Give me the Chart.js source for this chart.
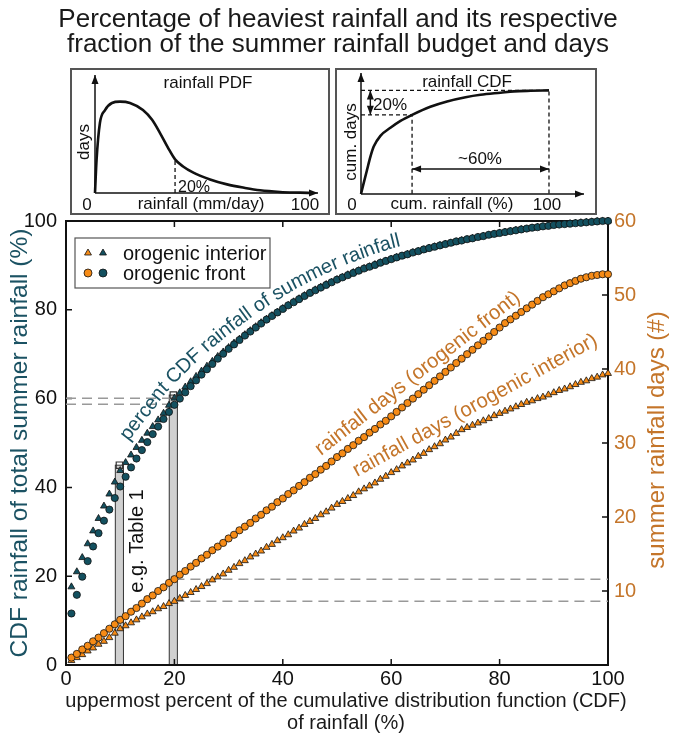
<!DOCTYPE html>
<html>
<head>
<meta charset="utf-8">
<script src="https://cdn.jsdelivr.net/npm/chart.js@4.4.0/dist/chart.umd.min.js"></script>
<style>
body { margin: 0; background: #fff; }
#wrap { position: relative; width: 673px; height: 737px; }
canvas { position: absolute; }
</style>
</head>
<body>
<div id="wrap">
  <canvas id="main" width="673" height="737" style="left:0;top:0"></canvas>
  <canvas id="pdf" width="260" height="147" style="left:70px;top:68px"></canvas>
  <canvas id="cdf" width="262" height="147" style="left:335px;top:68px"></canvas>
</div>
<script>
// uppermost percent of the rainfall CDF (x axis), 1..100
var pct = [];
for (var i = 1; i <= 100; i++) pct.push(i);

// percent CDF rainfall of summer rainfall (left axis)
var cdfFront = [11.6,15.8,19.9,23.4,26.7,29.7,32.5,35.0,37.6,40.2,
  42.4,44.5,46.5,48.4,50.2,52.0,53.7,55.4,57.0,58.6,
  60.0,61.4,62.8,64.1,65.4,66.6,67.8,69.0,70.1,71.2,
  72.2,73.2,74.2,75.1,76.0,76.9,77.8,78.6,79.4,80.2,
  81.0,81.7,82.4,83.1,83.8,84.4,85.0,85.6,86.2,86.8,
  87.3,87.8,88.3,88.8,89.3,89.7,90.1,90.6,91.0,91.4,
  91.8,92.2,92.5,92.9,93.2,93.6,93.9,94.2,94.5,94.8,
  95.1,95.4,95.6,95.9,96.1,96.4,96.6,96.9,97.1,97.3,
  97.5,97.7,97.9,98.1,98.3,98.5,98.6,98.8,98.9,99.1,
  99.2,99.3,99.4,99.5,99.6,99.7,99.8,99.9,100.0,100.0];
var cdfInterior = [17.6,21.0,24.2,27.3,30.2,33.0,35.8,38.5,41.2,43.8,
  45.6,47.3,49.0,50.6,52.2,53.7,55.2,56.7,58.5,60.1,
  61.3,62.6,63.8,65.0,66.2,67.3,68.4,69.5,70.5,71.5,
  72.5,73.4,74.4,75.3,76.2,77.1,77.9,78.7,79.5,80.3,
  81.0,81.8,82.5,83.2,83.8,84.5,85.1,85.7,86.2,86.8,
  87.3,87.9,88.4,88.8,89.3,89.7,90.2,90.6,91.0,91.4,
  91.8,92.1,92.5,92.9,93.2,93.5,93.9,94.2,94.5,94.8,
  95.0,95.3,95.6,95.8,96.1,96.3,96.6,96.8,97.0,97.3,
  97.5,97.7,97.9,98.1,98.2,98.4,98.6,98.7,98.9,99.0,
  99.2,99.3,99.4,99.5,99.6,99.7,99.8,99.9,99.9,100.0];

// summer rainfall days (right axis)
var daysFront = [1.0,1.5,2.1,2.6,3.2,3.7,4.3,4.9,5.5,6.1,
  6.6,7.2,7.7,8.3,8.9,9.4,10.0,10.5,11.1,11.6,
  12.2,12.7,13.3,13.8,14.4,14.9,15.5,16.0,16.5,17.1,
  17.6,18.2,18.7,19.2,19.8,20.3,20.9,21.4,22.0,22.5,
  23.1,23.6,24.2,24.7,25.3,25.8,26.4,26.9,27.5,28.1,
  28.6,29.2,29.7,30.3,30.8,31.4,31.9,32.5,33.0,33.6,
  34.2,34.8,35.4,36.0,36.6,37.2,37.8,38.4,39.0,39.6,
  40.2,40.8,41.4,42.0,42.6,43.2,43.8,44.4,45.0,45.6,
  46.2,46.7,47.2,47.7,48.2,48.7,49.2,49.7,50.1,50.5,
  50.9,51.3,51.6,51.9,52.2,52.4,52.6,52.7,52.8,52.8];
var daysInterior = [0.6,1.0,1.4,1.9,2.3,2.8,3.2,3.7,4.3,4.9,
  5.3,5.7,6.1,6.5,6.9,7.2,7.6,7.9,8.3,8.6,
  9.0,9.4,9.8,10.2,10.6,11.0,11.5,11.9,12.3,12.8,
  13.2,13.7,14.1,14.6,15.0,15.4,15.9,16.3,16.8,17.2,
  17.6,18.1,18.5,19.0,19.4,19.8,20.3,20.7,21.2,21.7,
  22.1,22.5,22.9,23.4,23.8,24.2,24.6,25.1,25.5,26.0,
  26.4,26.9,27.3,27.7,28.2,28.6,29.1,29.5,29.9,30.4,
  30.8,31.3,31.8,32.1,32.4,32.7,33.0,33.3,33.7,34.0,
  34.3,34.6,34.9,35.2,35.5,35.7,36.0,36.2,36.5,36.8,
  37.1,37.3,37.6,37.9,38.2,38.4,38.7,38.9,39.2,39.4];

// "e.g. Table 1" bars (10 % and 20 %) and guide levels
var tablePct = [9.85, 19.8];
var tableCdf = [45.0, 60.8];
var guideCdf = [60.1, 58.7];   // rainfall fraction at 20 %
var guideDays = [11.6, 8.6];   // rainfall days at 20 %

// inset sketches (arbitrary units 0-100)
var pdfRain = [0,0.7,2.2,4.5,7.6,11.2,15.7,21.5,25.6,29.1,32.7,35.9,39.5,43.9,51.6,59.2,67.3,74,83,91.9,97.3];
var pdfDays = [0,28,59.3,70.3,76.3,77.4,76.3,70.3,62.0,51.0,38.5,28.5,22.5,17.5,11.5,7.3,4.3,2.3,0.9,0.3,0];
var pdfCut = 35.9, pdfCutDays = 28.5;
var cdfRain = [0,1,2.7,4.2,5.7,8.7,13.2,17.7,22.9,31.1,38.6,46.9,53.6,62.6,68.6,76.1,84.3];
var cdfDays = [0,7.5,19.9,30.7,39.2,48.1,54.7,60.4,65.4,72.1,76.5,80,82,83.7,84.8,85.3,85.6];

var TEAL = '#13505f', TEAL_TXT = '#1b5263', ORANGE = '#f68b16', ORANGE_TXT = '#c4752a';
var FONT = '"Liberation Sans", Arial, Helvetica, sans-serif';

function xy(xs, ys) { return xs.map(function(x, i) { return {x: x, y: ys[i]}; }); }

function drawCurveText(ctx, pts, text, startIdx, offset) {
  // offset polyline to the upper left of the curve
  var off = [];
  for (var i = 0; i < pts.length; i++) {
    var a = pts[Math.max(i - 2, 0)], b = pts[Math.min(i + 2, pts.length - 1)];
    var tx = b.x - a.x, ty = b.y - a.y, l = Math.hypot(tx, ty) || 1;
    tx /= l; ty /= l;
    off.push({x: pts[i].x + ty * offset, y: pts[i].y - tx * offset});
  }
  var cum = [0];
  for (var j = 1; j < off.length; j++) cum.push(cum[j - 1] + Math.hypot(off[j].x - off[j - 1].x, off[j].y - off[j - 1].y));
  function at(s) {
    var k = 0;
    while (k < cum.length - 2 && cum[k + 1] < s) k++;
    var t = (s - cum[k]) / ((cum[k + 1] - cum[k]) || 1);
    var p = off[k], q = off[k + 1];
    return {x: p.x + (q.x - p.x) * t, y: p.y + (q.y - p.y) * t, a: Math.atan2(q.y - p.y, q.x - p.x)};
  }
  var s = cum[startIdx];
  for (var c = 0; c < text.length; c++) {
    var ch = text[c], w = ctx.measureText(ch).width;
    var p = at(s + w / 2);
    ctx.save();
    ctx.translate(p.x, p.y);
    ctx.rotate(p.a);
    ctx.fillText(ch, -w / 2, 0);
    ctx.restore();
    s += w;
  }
}

function rotText(ctx, text, x, y, deg, align) {
  ctx.save();
  ctx.translate(x, y);
  ctx.rotate(deg * Math.PI / 180);
  ctx.textAlign = align || 'center';
  ctx.fillText(text, 0, 0);
  ctx.restore();
}

var mainDecor = {
  id: 'mainDecor',
  beforeDatasetsDraw: function(chart) {
    var ctx = chart.ctx, a = chart.chartArea, sx = chart.scales.x, sy = chart.scales.y, sy2 = chart.scales.y2;
    ctx.save();
    // table bars
    ctx.fillStyle = '#d0d0d0';
    ctx.strokeStyle = '#333';
    ctx.lineWidth = 1;
    for (var i = 0; i < tablePct.length; i++) {
      var x0 = sx.getPixelForValue(tablePct[i] - 0.75), x1 = sx.getPixelForValue(tablePct[i] + 0.75);
      var yt = sy.getPixelForValue(tableCdf[i]), yb = sy.getPixelForValue(0);
      ctx.fillRect(x0, yt, x1 - x0, yb - yt);
      ctx.strokeRect(x0, yt, x1 - x0, yb - yt);
    }
    // frame and inward ticks
    ctx.strokeStyle = '#111';
    ctx.lineWidth = 2;
    ctx.strokeRect(a.left, a.top, a.right - a.left, a.bottom - a.top);
    ctx.lineWidth = 1.5;
    ctx.beginPath();
    [20, 40, 60, 80].forEach(function(v) {
      var px = sx.getPixelForValue(v), py = sy.getPixelForValue(v);
      ctx.moveTo(px, a.bottom); ctx.lineTo(px, a.bottom - 6);
      ctx.moveTo(px, a.top); ctx.lineTo(px, a.top + 6);
      ctx.moveTo(a.left, py); ctx.lineTo(a.left + 6, py);
    });
    [10, 20, 30, 40, 50].forEach(function(v) {
      var py = sy2.getPixelForValue(v);
      ctx.moveTo(a.right, py); ctx.lineTo(a.right - 6, py);
    });
    ctx.stroke();
    ctx.restore();
  },
  afterDraw: function(chart) {
    var ctx = chart.ctx;
    ctx.save();
    ctx.textBaseline = 'alphabetic';
    // title
    ctx.fillStyle = '#1a1a1a';
    ctx.font = '26px ' + FONT;
    ctx.textAlign = 'center';
    ctx.fillText('Percentage of heaviest rainfall and its respective', 338, 27);
    ctx.fillText('fraction of the summer rainfall budget and days', 338, 52);
    // axis titles
    ctx.font = '20px ' + FONT;
    ctx.fillText('uppermost percent of the cumulative distribution function (CDF)', 346, 707);
    ctx.fillText('of rainfall (%)', 346, 729);
    ctx.font = '24.5px ' + FONT;
    ctx.fillStyle = TEAL_TXT;
    rotText(ctx, 'CDF rainfall of total summer rainfall (%)', 27, 443, -90);
    ctx.font = '24px ' + FONT;
    ctx.fillStyle = ORANGE_TXT;
    rotText(ctx, 'summer rainfall days (#)', 664, 440, -90);

    // curve labels
    ctx.font = '20px ' + FONT;
    ctx.fillStyle = TEAL_TXT;
    ctx.textAlign = 'left';
    var pts = chart.getDatasetMeta(1).data.map(function(e) { return {x: e.x, y: e.y}; });
    drawCurveText(ctx, pts, 'percent CDF rainfall of summer rainfall', 12, 10);
    ctx.font = '20.5px ' + FONT;
    ctx.fillStyle = ORANGE_TXT;
    rotText(ctx, 'rainfall days (orogenic front)', 321, 456, -37.9, 'left');
    rotText(ctx, 'rainfall days (orogenic interior)', 357, 477, -28.8, 'left');
    ctx.fillStyle = '#111';
    ctx.font = '20px ' + FONT;
    rotText(ctx, 'e.g. Table 1', 143, 541, -90);

    // legend
    ctx.fillStyle = '#fff';
    ctx.fillRect(75, 238, 195, 50);
    ctx.strokeStyle = '#555';
    ctx.lineWidth = 1.2;
    ctx.strokeRect(75, 238, 195, 50);
    var rows = [['triangle', 'orogenic interior', 253], ['circle', 'orogenic front', 273]];
    rows.forEach(function(r) {
      [[ORANGE, 88], [TEAL, 103]].forEach(function(m) {
        ctx.fillStyle = m[0];
        ctx.strokeStyle = '#111';
        ctx.lineWidth = 0.8;
        Chart.helpers.drawPoint(ctx, {pointStyle: r[0], radius: 4, borderWidth: 0.8, rotation: 0}, m[1], r[2]);
      });
      ctx.fillStyle = '#111';
      ctx.font = '20px ' + FONT;
      ctx.textAlign = 'left';
      ctx.fillText(r[1], 123, r[2] + 7);
    });
    ctx.restore();
  }
};

var markerBase = {borderColor: '#111', borderWidth: 0.8, clip: false, showLine: false};

new Chart(document.getElementById('main'), {
  type: 'scatter',
  data: {
    datasets: [
      Object.assign({data: xy(pct, cdfFront), yAxisID: 'y', pointStyle: 'circle', pointRadius: 3.6, backgroundColor: TEAL, order: 3}, markerBase),
      Object.assign({data: xy(pct, cdfInterior), yAxisID: 'y', pointStyle: 'triangle', pointRadius: 4, backgroundColor: TEAL, order: 4}, markerBase),
      Object.assign({data: xy(pct, daysFront), yAxisID: 'y2', pointStyle: 'circle', pointRadius: 3.6, backgroundColor: ORANGE, order: 5}, markerBase),
      Object.assign({data: xy(pct, daysInterior), yAxisID: 'y2', pointStyle: 'triangle', pointRadius: 4, backgroundColor: ORANGE, order: 6}, markerBase),
      {type: 'scatter', data: xy(tablePct, tableCdf), yAxisID: 'y', pointStyle: 'rect', pointRadius: 4.5, backgroundColor: 'rgba(0,0,0,0)', borderColor: '#333', borderWidth: 1.2, order: 1},
      {type: 'line', data: [{x: 0, y: guideCdf[0]}, {x: 20, y: guideCdf[0]}], yAxisID: 'y', borderColor: '#999', borderWidth: 1.5, borderDash: [10, 6], pointRadius: 0, order: 9},
      {type: 'line', data: [{x: 0, y: guideCdf[1]}, {x: 20, y: guideCdf[1]}], yAxisID: 'y', borderColor: '#999', borderWidth: 1.5, borderDash: [10, 6], pointRadius: 0, order: 9},
      {type: 'line', data: [{x: 20, y: guideDays[0]}, {x: 100, y: guideDays[0]}], yAxisID: 'y2', borderColor: '#999', borderWidth: 1.5, borderDash: [10, 6], pointRadius: 0, order: 9},
      {type: 'line', data: [{x: 20, y: guideDays[1]}, {x: 100, y: guideDays[1]}], yAxisID: 'y2', borderColor: '#999', borderWidth: 1.5, borderDash: [10, 6], pointRadius: 0, order: 9}
    ]
  },
  options: {
    responsive: false,
    animation: false,
    devicePixelRatio: 1,
    layout: {padding: {top: 221, left: 0, right: 0, bottom: 0}},
    plugins: {legend: {display: false}, tooltip: {enabled: false}},
    scales: {
      x: {type: 'linear', min: 0, max: 100,
        ticks: {stepSize: 20, color: '#111', font: {size: 20, family: FONT}, padding: 2, maxRotation: 0},
        grid: {display: false, drawTicks: false}, border: {display: false},
        afterFit: function(s) { s.height = 72; }},
      y: {position: 'left', min: 0, max: 100,
        ticks: {stepSize: 20, color: '#111', font: {size: 20, family: FONT}, padding: 9},
        grid: {display: false, drawTicks: false}, border: {display: false},
        afterFit: function(s) { s.width = 66; }},
      y2: {position: 'right', min: 0, max: 60,
        ticks: {stepSize: 10, color: ORANGE_TXT, font: {size: 20, family: FONT}, padding: 6,
          callback: function(v) { return v === 0 ? '' : v; }},
        grid: {display: false, drawTicks: false}, border: {display: false},
        afterFit: function(s) { s.width = 65; }}
    }
  },
  plugins: [mainDecor]
});

// ---- insets ----
function arrowHead(ctx, x, y, ang) {
  ctx.save();
  ctx.translate(x, y);
  ctx.rotate(ang);
  ctx.beginPath();
  ctx.moveTo(0, 0);
  ctx.lineTo(-9, -3.5);
  ctx.lineTo(-9, 3.5);
  ctx.closePath();
  ctx.fill();
  ctx.restore();
}
function arrow(ctx, x1, y1, x2, y2, both) {
  ctx.beginPath();
  ctx.moveTo(x1, y1);
  ctx.lineTo(x2, y2);
  ctx.stroke();
  var ang = Math.atan2(y2 - y1, x2 - x1);
  arrowHead(ctx, x2, y2, ang);
  if (both) arrowHead(ctx, x1, y1, ang + Math.PI);
}

function insetChart(id, pad, datasets, extras) {
  return new Chart(document.getElementById(id), {
    type: 'line',
    data: {datasets: datasets},
    options: {
      responsive: false, animation: false, devicePixelRatio: 1,
      layout: {padding: pad},
      plugins: {legend: {display: false}, tooltip: {enabled: false}},
      elements: {point: {radius: 0}},
      scales: {x: {type: 'linear', min: 0, max: 100, display: false}, y: {min: 0, max: 100, display: false}}
    },
    plugins: [{
      id: 'insetDecor',
      beforeDraw: function(c) {
        var ctx = c.ctx;
        ctx.save();
        ctx.fillStyle = '#fff';
        ctx.fillRect(0, 0, c.width, c.height);
        ctx.strokeStyle = '#555';
        ctx.lineWidth = 2;
        ctx.strokeRect(1, 1, c.width - 2, c.height - 2);
        ctx.restore();
      },
      afterDraw: function(c) {
        var ctx = c.ctx, a = c.chartArea, sx = c.scales.x, sy = c.scales.y;
        ctx.save();
        ctx.strokeStyle = '#111';
        ctx.fillStyle = '#111';
        ctx.lineWidth = 1.5;
        var x0 = sx.getPixelForValue(0), y0 = sy.getPixelForValue(0);
        arrow(ctx, x0, y0, x0, a.top);
        arrow(ctx, x0, y0, a.right, y0);
        ctx.font = '17px ' + FONT;
        ctx.textBaseline = 'alphabetic';
        extras(ctx, sx, sy);
        ctx.restore();
      }
    }]
  });
}

var curveStyle = {borderColor: '#111', borderWidth: 2.6, cubicInterpolationMode: 'monotone', clip: false, fill: false};
var dashStyle = {borderColor: '#111', borderWidth: 1.3, borderDash: [4, 3], clip: false, fill: false};

insetChart('pdf', {left: 25, right: 12, top: 7, bottom: 22}, [
  Object.assign({data: xy(pdfRain, pdfDays)}, curveStyle),
  Object.assign({data: [{x: pdfCut, y: 0}, {x: pdfCut, y: pdfCutDays}]}, dashStyle)
], function(ctx, sx, sy) {
  ctx.textAlign = 'center';
  ctx.fillText('rainfall PDF', 138, 20);
  ctx.fillText('0', 17, 142);
  ctx.fillText('rainfall (mm/day)', 131, 141);
  ctx.fillText('100', 235, 142);
  rotText(ctx, 'days', 19, 74, -90);
  ctx.font = '16px ' + FONT;
  ctx.textAlign = 'left';
  ctx.fillText('20%', 108, 124);
});

var cdfTop = cdfDays[cdfDays.length - 1], cdfCut = cdfDays[8];
var cdfEnd = cdfRain[cdfRain.length - 1], cdfCutX = cdfRain[8];
insetChart('cdf', {left: 26, right: 13, top: 5, bottom: 21}, [
  Object.assign({data: xy(cdfRain, cdfDays)}, curveStyle),
  Object.assign({data: [{x: 0, y: cdfTop}, {x: cdfEnd, y: cdfTop}, {x: cdfEnd, y: 0}]}, dashStyle),
  Object.assign({data: [{x: 0, y: cdfCut}, {x: cdfCutX, y: cdfCut}, {x: cdfCutX, y: 0}]}, dashStyle)
], function(ctx, sx, sy) {
  ctx.lineWidth = 1.4;
  var ax = sx.getPixelForValue(4.2);
  arrow(ctx, ax, sy.getPixelForValue(cdfCut), ax, sy.getPixelForValue(cdfTop), true);
  var ay = sy.getPixelForValue(20.7);
  arrow(ctx, sx.getPixelForValue(cdfCutX), ay, sx.getPixelForValue(cdfEnd), ay, true);
  ctx.textAlign = 'center';
  ctx.fillText('rainfall CDF', 132, 19);
  ctx.fillText('0', 17, 142);
  ctx.fillText('cum. rainfall (%)', 117, 141);
  ctx.fillText('100', 212, 142);
  rotText(ctx, 'cum. days', 21, 74, -90);
  ctx.fillText('~60%', 145, 96);
  ctx.textAlign = 'left';
  ctx.fillText('20%', 38, 42);
});
</script>
</body>
</html>
